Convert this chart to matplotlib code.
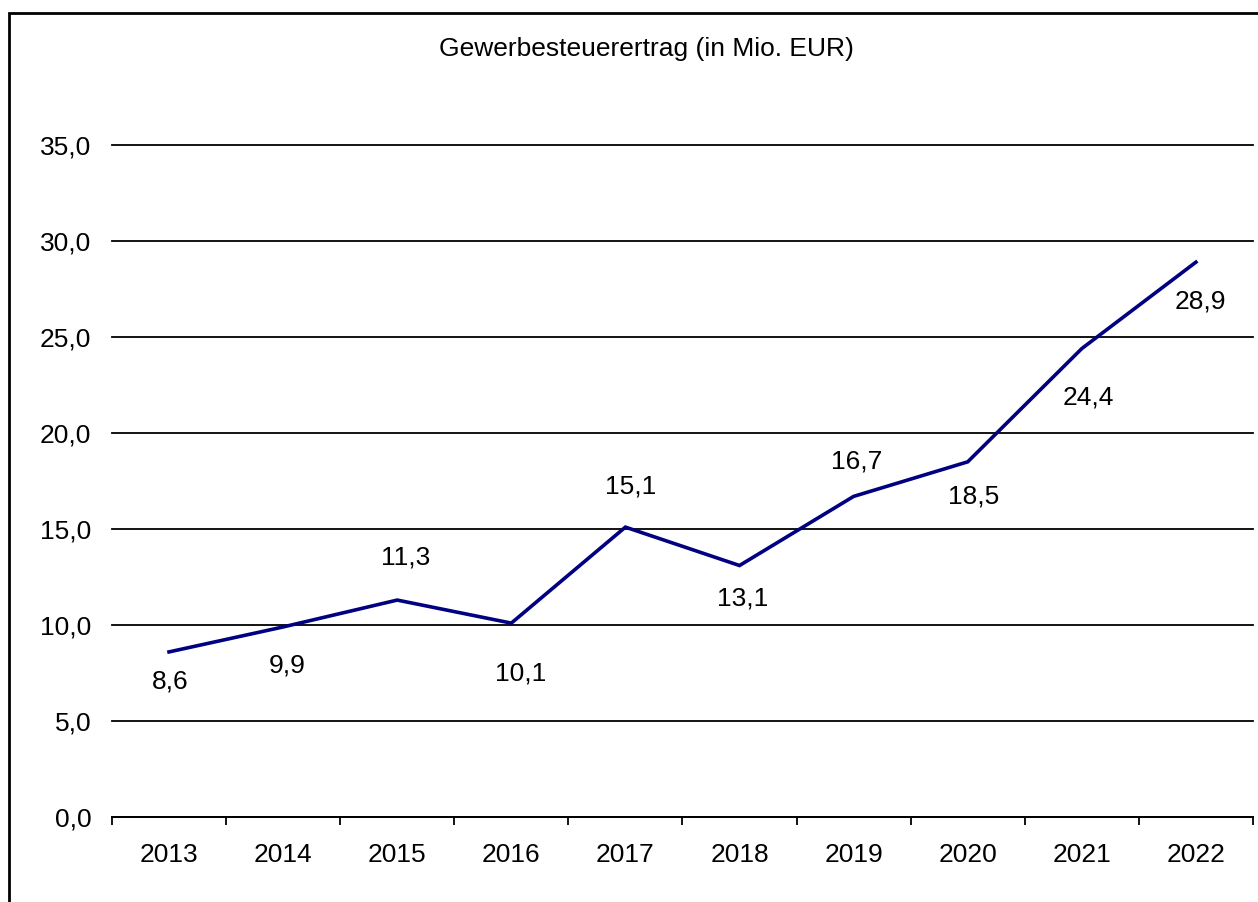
import matplotlib.pyplot as plt
from matplotlib.patches import Rectangle

# Données
jahre = ['2013', '2014', '2015', '2016', '2017', '2018', '2019', '2020', '2021', '2022']
ertrag = [8.6, 9.9, 11.3, 10.1, 15.1, 13.1, 16.7, 18.5, 24.4, 28.9]
titel = 'Gewerbesteuerertrag (in Mio. EUR)'

# décalage des étiquettes (points) : négatif = dessous
label_dy = [-21, -28, 31, -36, 29, -24, 25, -25, -35, -28]
label_dx = [1, 3, 6, 7, 4, 2, 2, 4, 5, 3]

plt.rcParams['font.family'] = ['Liberation Sans', 'DejaVu Sans']
fs = 19

fig = plt.figure(figsize=(12.58, 9.02), dpi=100)
ax = fig.add_axes([0.0890, 0.0942, 0.9070, 0.7450])

x = list(range(len(jahre)))
ax.plot(x, ertrag, color='#000080', linewidth=2.6, solid_joinstyle='miter')

for i, v in enumerate(ertrag):
    ax.annotate(f'{v:.1f}'.replace('.', ','), (x[i], v),
                xytext=(label_dx[i], label_dy[i]), textcoords='offset points',
                ha='center', va='center', fontsize=fs)

ax.set_xlim(-0.5, len(jahre) - 0.5)
ax.set_ylim(0, 35)
ax.set_yticks([0, 5, 10, 15, 20, 25, 30, 35])
ax.set_yticklabels([f'{t:.1f}'.replace('.', ',') for t in [0, 5, 10, 15, 20, 25, 30, 35]])
ax.yaxis.grid(True, color='black', linewidth=1.3)
ax.set_axisbelow(True)
for gl in ax.get_ygridlines():
    gl.set_clip_on(False)

ax.set_xticks(x)
ax.set_xticklabels(jahre)
ax.set_xticks([i - 0.5 for i in range(len(jahre) + 1)], minor=True)
ax.tick_params(axis='x', which='major', length=0, pad=19, labelsize=fs)
ax.tick_params(axis='x', which='minor', length=6, width=1.3, color='black')
ax.tick_params(axis='y', length=0, pad=15, labelsize=fs)

for s in ['left', 'right', 'top']:
    ax.spines[s].set_visible(False)
ax.spines['bottom'].set_linewidth(1.3)

fig.text(0.514, 0.946, titel, ha='center', va='center', fontsize=fs)

# cadre autour du graphique
fig.patches.append(Rectangle((9 / 1258, -0.1), 1.2, 0.1 + 1 - 13 / 902,
                             transform=fig.transFigure, fill=False,
                             edgecolor='black', linewidth=2.0))

fig.savefig('out.png', dpi=100)
